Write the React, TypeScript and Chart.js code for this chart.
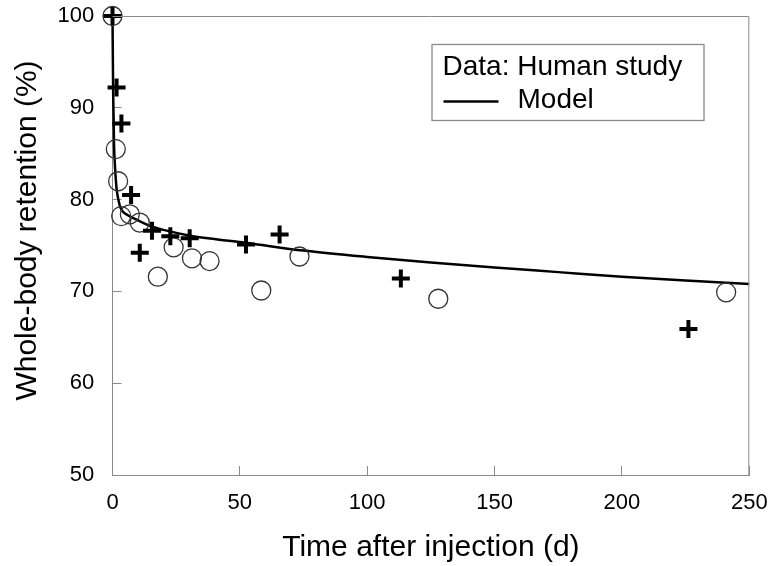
import React, { useEffect, useRef } from 'react';
import { Chart, registerables } from 'chart.js';
Chart.register(...registerables);

// Data
const crossDays = [0, 1.6, 3.5, 7.3, 10.7, 15.5, 22.7, 30.3, 52.4, 65.6, 113.2, 226.1];
const crossRetention = [100, 92.2, 88.3, 80.5, 74.2, 76.6, 76.0, 75.8, 75.1, 76.2, 71.4, 65.9];
const circleDays = [0, 1.3, 2.2, 3.4, 6.8, 10.7, 17.8, 24.0, 31.2, 38.1, 58.4, 73.4, 127.9, 240.9];
const circleRetention = [100, 85.5, 82.0, 78.2, 78.4, 77.5, 71.6, 74.8, 73.6, 73.3, 70.1, 73.8, 69.2, 69.9];
const modelDays = [0, 0.15, 0.3, 0.6, 1.0, 1.6, 2.3, 3, 4, 6, 8, 11, 15, 20, 30, 40, 52, 75, 100, 125, 150, 175, 200, 225, 250];
const modelRetention = [100, 95, 91, 86, 83.5, 81.2, 80, 79.2, 78.7, 78.3, 78.0, 77.6, 77.1, 76.7, 76.1, 75.7, 75.3, 74.45, 73.75, 73.15, 72.6, 72.1, 71.6, 71.2, 70.8];
const xTicks = [0, 50, 100, 150, 200, 250];
const yTicks = [50, 60, 70, 80, 90, 100];

const xTitle = 'Time after injection (d)';
const yTitle = 'Whole-body retention (%)';
const legendTitle = 'Data: Human study';
const legendModel = 'Model';

const FONT = '"Liberation Sans", Arial, sans-serif';
const GRAY = '#8a8a8a';

const overlay = {
  id: 'overlay',
  afterDraw(chart: any) {
    const { ctx, chartArea: a } = chart;
    ctx.save();
    // top and right frame
    ctx.strokeStyle = GRAY;
    ctx.lineWidth = 1;
    ctx.beginPath();
    ctx.moveTo(a.left, a.top + 0.5);
    ctx.lineTo(a.right - 0.5, a.top + 0.5);
    ctx.lineTo(a.right - 0.5, a.bottom);
    ctx.stroke();

    // legend box
    const lx = a.left + 319;
    const ly = a.top + 28;
    const lw = 272;
    const lh = 76;
    ctx.lineWidth = 1.3;
    ctx.strokeStyle = GRAY;
    ctx.strokeRect(lx + 0.5, ly + 0.5, lw, lh);
    ctx.fillStyle = '#000';
    ctx.font = `28px ${FONT}`;
    ctx.textAlign = 'left';
    ctx.textBaseline = 'alphabetic';
    ctx.fillText(legendTitle, lx + 11, ly + 31);
    ctx.fillText(legendModel, lx + 86, ly + 64);
    ctx.strokeStyle = '#000';
    ctx.lineWidth = 2.5;
    ctx.beginPath();
    ctx.moveTo(lx + 12, ly + 57.5);
    ctx.lineTo(lx + 67, ly + 57.5);
    ctx.stroke();

    // y title
    ctx.translate(28, (a.top + a.bottom) / 2 - 15);
    ctx.rotate(-Math.PI / 2);
    ctx.font = `30px ${FONT}`;
    ctx.textAlign = 'center';
    ctx.textBaseline = 'middle';
    ctx.fillStyle = '#000';
    ctx.fillText(yTitle, 0, 0);
    ctx.restore();
  },
};

export default function App() {
  const ref = useRef<HTMLCanvasElement>(null);
  useEffect(() => {
    if (!ref.current) return;
    const chart = new Chart(ref.current, {
      type: 'scatter',
      data: {
        datasets: [
          {
            label: 'Human study (+)',
            data: crossDays.map((d, i) => ({ x: d, y: crossRetention[i] })),
            pointStyle: 'cross',
            pointRadius: 9,
            borderWidth: 4,
            borderColor: '#000',
            backgroundColor: '#000',
            clip: false,
          },
          {
            label: 'Human study (o)',
            data: circleDays.map((d, i) => ({ x: d, y: circleRetention[i] })),
            pointStyle: 'circle',
            pointRadius: 9.5,
            borderWidth: 1.3,
            borderColor: '#333',
            backgroundColor: 'rgba(0,0,0,0)',
            clip: false,
          },
          {
            label: 'Model',
            data: modelDays.map((d, i) => ({ x: d, y: modelRetention[i] })),
            showLine: true,
            pointRadius: 0,
            borderColor: '#000',
            borderWidth: 2.5,
            cubicInterpolationMode: 'monotone',
            clip: false,
          } as any,
        ],
      },
      options: {
        animation: false,
        responsive: true,
        maintainAspectRatio: false,
        layout: { padding: { left: 0, top: 16, right: 21.7, bottom: 0 } },
        plugins: { legend: { display: false }, tooltip: { enabled: false } },
        scales: {
          x: {
            type: 'linear',
            min: 0,
            max: 250,
            afterFit: (s: any) => { s.height = 91; s.paddingLeft = 0; s.paddingRight = 0; },
            afterBuildTicks: (s: any) => { s.ticks = xTicks.map((v) => ({ value: v })); },
            ticks: { padding: 23.8, color: '#000', font: { family: FONT, size: 22 } },
            grid: { drawOnChartArea: false, drawTicks: true, tickLength: -9, color: GRAY },
            border: { display: true, color: GRAY, width: 1 },
            title: { display: true, text: xTitle, color: '#000', font: { family: FONT, size: 30 }, padding: { top: 0, bottom: 0 } },
          },
          y: {
            type: 'linear',
            min: 50,
            max: 100,
            afterFit: (s: any) => { s.width = 112.5; s.paddingTop = 0; s.paddingBottom = 0; },
            afterBuildTicks: (s: any) => { s.ticks = yTicks.map((v) => ({ value: v })); },
            ticks: { padding: 27.2, color: '#000', font: { family: FONT, size: 22 } },
            grid: { drawOnChartArea: false, drawTicks: true, tickLength: -9, color: GRAY },
            border: { display: true, color: GRAY, width: 1 },
          },
        },
      },
      plugins: [overlay],
    });
    return () => chart.destroy();
  }, []);
  return (
    <div style={{ position: 'absolute', left: 0, top: 0, width: 771, height: 566 }}>
      <canvas ref={ref} />
    </div>
  );
}
